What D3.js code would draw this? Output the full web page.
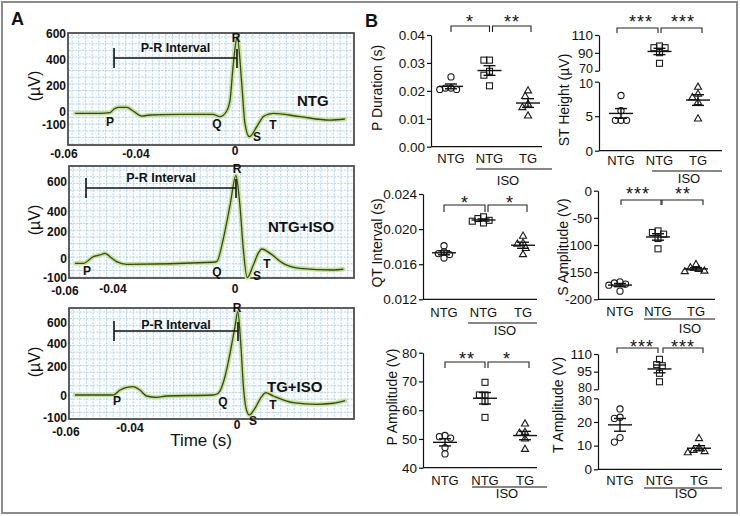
<!DOCTYPE html>
<html><head><meta charset="utf-8">
<script src="https://cdn.jsdelivr.net/npm/d3@7"></script>
<style>
body{margin:0;background:#fff}
svg{display:block}
text{font-family:"Liberation Sans",Arial,Helvetica,sans-serif;fill:#111}
</style></head>
<body><svg id="c" width="740" height="516"></svg>
<script>
// ---------------- DATA ----------------
// Panel A: averaged ECG traces (time in s relative to R, voltage in µV)
const ecgTicksX = [-0.06, -0.04, 0];
const ecgTicksY = [-100, 0, 200, 400, 600];

const ntgTime = [-0.0569,-0.0500,-0.0472,-0.0461,-0.0450,-0.0425,-0.0408,-0.0376,-0.0343,-0.0222,-0.0089,-0.0061,-0.0036,-0.0020,-0.0008,0.0009,0.0027,0.0040,0.0058,0.0088,0.0114,0.0141,0.0154,0.0263,0.0384,0.0444];
const ntgVolt = [-10,-10,-4,23,36,36,8,-31,-23,-19,-18,-36,0,92,346,579,223,-85,-190,-113,-36,-15,-10,-36,-62,-54];

const ntgIsoTime = [-0.0558,-0.0524,-0.0482,-0.0454,-0.0433,-0.0413,-0.0388,-0.0355,-0.0071,-0.0060,-0.0038,-0.0016,0.0003,0.0016,0.0027,0.0040,0.0060,0.0076,0.0088,0.0115,0.0158,0.0213,0.0322,0.0355];
const ntgIsoVolt = [-23,-23,17,30,42,17,-14,-28,-17,-14,153,447,642,447,79,-98,-32,42,74,42,-23,-49,-58,-54];

const tgIsoTime = [-0.0572,-0.0452,-0.0431,-0.0410,-0.0388,-0.0363,-0.0338,-0.0300,-0.0263,-0.0089,-0.0070,-0.0045,-0.0026,-0.00075,0.0003,0.0014,0.0024,0.0034,0.0046,0.0067,0.0092,0.0107,0.0136,0.0210,0.0298,0.0360,0.0404];
const tgIsoVolt = [7,7,41,60,64,41,0,-6,0,7,19,133,319,565,708,407,64,-56,-86,-56,-3,23,0,-30,-38,-33,-21];

const ecgGroups = ["NTG", "NTG+ISO", "TG+ISO"];
const prStart = [-0.0461, -0.05125, -0.045];
const prEnd = [0.0008, 0.00033, 0.00037];
const prLevel = [415, 560, 524];

// Panel B: per-animal values, groups NTG, NTG+ISO, TG+ISO
const groupNames = ["NTG", "NTG", "TG"];
const pDuration  = [[0.0250,0.0210,0.0205,0.0205,0.0210],[0.0310,0.0310,0.0270,0.0256,0.0218],[0.0200,0.0180,0.0152,0.0140,0.0110]];
const stHeight   = [[8.0,5.8,4.4,4.4,4.4],[95.8,97.7,95.8,90.2,78.3],[9.2,8.2,7.7,7.0,4.6]];
const qtInterval = [[0.0181,0.0174,0.0172,0.0171,0.0167],[0.0214,0.0212,0.0210,0.0209,0.0207],[0.0192,0.0184,0.0183,0.0178,0.0171]];
const sAmplitude = [[-168,-170,-172,-174,-185],[-74,-77,-80,-88,-107],[-136,-142,-145,-148,-149]];
const pAmplitude = [[50.8,50.3,51.2,47.0,44.8],[69.7,65.3,65.3,63.0,57.5],[55.2,52.3,52.0,50.0,46.4]];
const tAmplitude = [[25.5,22.0,21.5,13.4,11.5],[105.5,101,100,93.6,86.4],[13.0,9.0,8.0,7.5,7.0]];
const sigLeft  = ["*", "***", "*", "***", "**", "***"];
const sigRight = ["**", "***", "*", "**", "*", "***"];

// ---------------- LAYOUT ----------------
const svg = d3.select("#c");
svg.append("rect").attr("x",2).attr("y",2).attr("width",735).attr("height",511)
  .attr("fill","none").attr("stroke","#8c8c8c").attr("stroke-width",2);

svg.append("text").attr("x",11).attr("y",25).attr("font-size",18).attr("font-weight","bold").text("A");
svg.append("text").attr("x",365).attr("y",27).attr("font-size",18).attr("font-weight","bold").text("B");

const ecgPanels = [
  {t:ntgTime, v:ntgVolt, box:[68,33,354,145], xr:[64,136,235], yr:[125,112,86,60,34],
   xLab:[158,158,155], ylab:86, prLab:52, name:[297,106],
   waves:[["P",110,126],["Q",217,128],["R",236,42],["S",257,141],["T",273,128.5]]},
  {t:ntgIsoTime, v:ntgIsoVolt, box:[69,166,354,278], xr:[65,113,235], yr:[278,259,232,212,182],
   xLab:[295,293,293], ylab:220, prLab:182, name:[268,232],
   waves:[["P",87,275],["Q",217,276],["R",237,173],["S",257,280],["T",267,268]]},
  {t:tgIsoTime, v:tgIsoVolt, box:[69,308,354,419], xr:[66,130,237], yr:[418,396,367,344,323],
   xLab:[436,432,429], ylab:362, prLab:329, name:[267,392],
   waves:[["P",117,404.5],["Q",223,406],["R",237,312],["S",253,425],["T",273,409]]}
];

ecgPanels.forEach((p, i) => {
  const x = d3.scaleLinear().domain(ecgTicksX).range(p.xr);
  const y = d3.scaleLinear().domain(ecgTicksY).range(p.yr);
  const [x0,y0,x1,y1] = p.box;
  const g = svg.append("g");
  g.append("rect").attr("x",x0).attr("y",y0).attr("width",x1-x0).attr("height",y1-y0).attr("fill","#fbfdff");
  const grid = g.append("g").attr("stroke","#a9cfea").attr("stroke-width",0.9).attr("stroke-dasharray","2,1.3");
  d3.range(x0+4, x1, 6.7).forEach(gx => grid.append("line").attr("x1",gx).attr("x2",gx).attr("y1",y0+1).attr("y2",y1-1));
  d3.range(y0+4, y1, 6.7).forEach(gy => grid.append("line").attr("x1",x0+1).attr("x2",x1-1).attr("y1",gy).attr("y2",gy));
  g.append("rect").attr("x",x0).attr("y",y0).attr("width",x1-x0).attr("height",y1-y0)
    .attr("fill","none").attr("stroke","#4d4d4d").attr("stroke-width",1.8);

  const pts = p.t.map((t,k) => [t, p.v[k]]);
  const line = d3.line().x(d => x(d[0])).y(d => y(d[1])).curve(d3.curveMonotoneX);
  g.append("path").attr("d", line(pts)).attr("fill","none").attr("stroke","#c8e196")
    .attr("stroke-width",4.5).attr("stroke-linejoin","round").attr("stroke-linecap","round");
  g.append("path").attr("d", line(pts)).attr("fill","none").attr("stroke","#2f4b1d")
    .attr("stroke-width",1.3).attr("stroke-linejoin","round");

  // y axis (labels only)
  const ya = g.append("g").attr("transform",`translate(${x0},0)`)
    .call(d3.axisLeft(y).tickValues(ecgTicksY).tickFormat(d => String(d)).tickSize(0).tickPadding(2));
  ya.select(".domain").remove();
  ya.selectAll("text").attr("font-size",12).attr("font-weight","bold")
    .attr("font-family",'"Liberation Sans",Arial,sans-serif').attr("fill","#111");
  // x tick labels
  ecgTicksX.forEach((t,k) => {
    g.append("text").attr("x", x(t)).attr("y", p.xLab[k]).attr("text-anchor","middle")
      .attr("font-size",12).attr("font-weight","bold").text(String(t));
  });
  // y label
  g.append("text").attr("transform",`translate(40,${p.ylab}) rotate(-90)`).attr("text-anchor","middle")
    .attr("font-size",16).text("(\u00b5V)");
  // P-R interval bar
  const px0 = x(prStart[i]), px1 = x(prEnd[i]), py = y(prLevel[i]);
  const bar = g.append("g").attr("stroke","#111").attr("stroke-width",1.6);
  bar.append("line").attr("x1",px0).attr("x2",px1).attr("y1",py).attr("y2",py);
  bar.append("line").attr("x1",px0).attr("x2",px0).attr("y1",py-10).attr("y2",py+10);
  bar.append("line").attr("x1",px1).attr("x2",px1).attr("y1",py-9).attr("y2",py+10);
  g.append("text").attr("x",(px0+px1)/2).attr("y",p.prLab).attr("text-anchor","middle")
    .attr("font-size",12.5).attr("font-weight","bold").text("P-R Interval");
  // wave labels
  p.waves.forEach(w => g.append("text").attr("x",w[1]).attr("y",w[2]).attr("text-anchor","middle")
    .attr("font-size",12).attr("font-weight","bold").text(w[0]));
  g.append("text").attr("x",p.name[0]).attr("y",p.name[1]).attr("font-size",15).attr("font-weight","bold").text(ecgGroups[i]);
});
svg.append("text").attr("x",201).attr("y",446).attr("text-anchor","middle").attr("font-size",17).text("Time (s)");

// ---------------- PANEL B ----------------
const f2 = d => d.toFixed(2), f3 = d => d.toFixed(3), fi = d => String(d);
const scatterPanels = [
  {data:pDuration, label:"P Duration (s)", lab:[377,88], fmt:f2, ax:431, xEnd:542, xAxisY:146.7, g:[451,528], catY:163,
   segs:[{d:[0,0.04], r:[146.7,35], ticks:[0,0.01,0.02,0.03,0.04]}],
   iso:{y:169,x0:476,x1:552,tx:508,ty:185}, br:{y:26,d:32,p:[[451,489.5],[492.5,531]],sx:[470,512],sy:18}},
  {data:stHeight, label:"ST Height (\u00b5V)", lab:[564,100], fmt:fi, ax:599, xEnd:722, xAxisY:150.7, g:[621,698], catY:165,
   segs:[{d:[70,110], r:[70.7,35], ticks:[70,90,110], nudge:-2},{d:[0,10], r:[150.7,81.7], ticks:[0,5,10], nudge:2}],
   iso:{y:171,x0:652,x1:722,tx:689,ty:183}, br:{y:28,d:33,p:[[617,658],[661,702]],sx:[641,683],sy:18}},
  {data:qtInterval, label:"QT Interval (s)", lab:[377,243], fmt:f3, ax:423, xEnd:537, xAxisY:299.3, g:[444,523], catY:317,
   segs:[{d:[0.012,0.024], r:[299.3,194], ticks:[0.012,0.016,0.020,0.024]}],
   iso:{y:323,x0:468,x1:537,tx:505,ty:335}, br:{y:205,d:212,p:[[444,485],[488,527]],sx:[465,510],sy:199}},
  {data:sAmplitude, label:"S Amplitude (V)", lab:[563,247], fmt:fi, ax:598, xEnd:715, xAxisY:299.3, g:[620,696], catY:316,
   segs:[{d:[-200,0], r:[299.3,190.7], ticks:[-200,-150,-100,-50,0]}],
   iso:{y:319,x0:644,x1:715,tx:690,ty:333}, br:{y:200,d:205,p:[[621,661],[662,703]],sx:[638,683],sy:190}},
  {data:pAmplitude, label:"P Amplitude (V)", lab:[392,397], fmt:fi, ax:423, xEnd:537, xAxisY:467.7, g:[445,525], catY:485,
   segs:[{d:[40,80], r:[467.7,352.7], ticks:[40,50,60,70,80]}],
   iso:{y:487,x0:472,x1:547,tx:507,ty:498}, br:{y:362,d:368,p:[[445,485],[488,529]],sx:[467,507],sy:355}},
  {data:tAmplitude, label:"T Amplitude (V)", lab:[558,405], fmt:fi, ax:598, xEnd:722, xAxisY:469.3, g:[620,699], catY:485,
   segs:[{d:[80,110], r:[389.3,354], ticks:[80,95,110], nudge:-2},{d:[0,30], r:[469.3,398.3], ticks:[0,10,20,30], nudge:2}],
   iso:{y:488,x0:644,x1:722,tx:686,ty:498}, br:{y:348,d:353,p:[[617,658],[663,703]],sx:[642,683],sy:343}}
];

function swarm(vals, yf, minD) {
  const pts = vals.map(v => ({v, y: yf(v)}));
  const order = pts.slice().sort((a,b) => a.y - b.y);
  const placed = [];
  order.forEach(p => {
    for (let k = 0; k < 40; k++) {
      const off = k === 0 ? 0 : (k % 2 ? -1 : 1) * Math.ceil(k/2) * minD/2;
      if (placed.every(q => Math.hypot(q.dx - off, q.y - p.y) >= minD)) { p.dx = off; break; }
    }
    placed.push(p);
  });
  return pts;
}

const shapes = ["circle", "square", "triangle"];
scatterPanels.forEach((p, pi) => {
  const g = svg.append("g");
  const segs = p.segs.map(s => Object.assign({}, s, {sc: d3.scaleLinear().domain(s.d).range(s.r)}));
  const yOf = v => {
    for (const s of segs) if (v >= s.d[0] - 1e-9 && v <= s.d[1] + 1e-9) return s.sc(v);
    return segs[segs.length-1].sc(v);
  };
  segs.forEach(s => {
    const a = g.append("g").attr("transform",`translate(${p.ax},0)`)
      .call(d3.axisLeft(s.sc).tickValues(s.ticks).tickFormat(p.fmt).tickSize(4).tickSizeOuter(0).tickPadding(2));
    a.select(".domain").attr("stroke","#111").attr("stroke-width",1.2);
    a.selectAll(".tick line").attr("stroke","#111").attr("stroke-width",1.2);
    a.selectAll("text").attr("font-size",13.5).attr("fill","#111")
      .attr("font-family",'"Liberation Sans",Arial,sans-serif');
    if (s.nudge) {
      // separate the two labels that meet at the axis break
      const edgeVal = s.nudge < 0 ? s.d[0] : s.d[1];
      a.selectAll(".tick").filter(d => d === edgeVal).select("text")
        .attr("y", s.nudge).attr("font-size",12.5);
    }
  });
  g.append("line").attr("x1",p.ax).attr("x2",p.xEnd).attr("y1",p.xAxisY).attr("y2",p.xAxisY)
    .attr("stroke","#111").attr("stroke-width",1.2);
  g.append("text").attr("transform",`translate(${p.lab[0]},${p.lab[1]}) rotate(-90)`)
    .attr("text-anchor","middle").attr("dy","0.35em").attr("font-size",14).text(p.label);

  const xs = d3.scalePoint().domain([0,1,2]).range(p.g);
  groupNames.forEach((n,i) => g.append("text").attr("x",xs(i)).attr("y",p.catY)
    .attr("text-anchor","middle").attr("font-size",13).text(n));
  g.append("line").attr("x1",p.iso.x0).attr("x2",p.iso.x1).attr("y1",p.iso.y).attr("y2",p.iso.y)
    .attr("stroke","#111").attr("stroke-width",1.2);
  g.append("text").attr("x",p.iso.tx).attr("y",p.iso.ty).attr("text-anchor","middle").attr("font-size",13).text("ISO");

  // significance brackets
  const stars = [sigLeft[pi], sigRight[pi]];
  p.br.p.forEach((pr, k) => {
    g.append("path").attr("d",`M${pr[0]},${p.br.d}V${p.br.y}H${pr[1]}V${p.br.d}`)
      .attr("fill","none").attr("stroke","#222").attr("stroke-width",1.1);
    g.append("text").attr("x",p.br.sx[k]).attr("y",p.br.sy+10).attr("text-anchor","middle")
      .attr("font-size",18).attr("letter-spacing",1).text(stars[k]);
  });

  // points, mean and SEM
  p.data.forEach((vals, i) => {
    const cx = xs(i);
    const pts = swarm(vals, yOf, 5.6);
    pts.forEach(d => {
      const px = cx + d.dx, py = d.y;
      let el;
      if (shapes[i] === "circle") el = g.append("circle").attr("cx",px).attr("cy",py).attr("r",3.1);
      else if (shapes[i] === "square") el = g.append("rect").attr("x",px-3).attr("y",py-3).attr("width",6).attr("height",6);
      else el = g.append("path").attr("transform",`translate(${px},${py})`).attr("d",d3.symbol(d3.symbolTriangle).size(22)());
      el.attr("fill","none").attr("stroke","#1a1a1a").attr("stroke-width",1.1);
    });
    const m = d3.mean(vals), sem = d3.deviation(vals) / Math.sqrt(vals.length);
    const ym = yOf(m), yt = yOf(m + sem), yb = yOf(m - sem);
    const st = g.append("g").attr("stroke","#111").attr("stroke-width",1.4);
    st.append("line").attr("x1",cx-12).attr("x2",cx+12).attr("y1",ym).attr("y2",ym);
    st.append("line").attr("x1",cx).attr("x2",cx).attr("y1",yt).attr("y2",yb);
    st.append("line").attr("x1",cx-6).attr("x2",cx+6).attr("y1",yt).attr("y2",yt);
    st.append("line").attr("x1",cx-6).attr("x2",cx+6).attr("y1",yb).attr("y2",yb);
  });
});
</script></body></html>
